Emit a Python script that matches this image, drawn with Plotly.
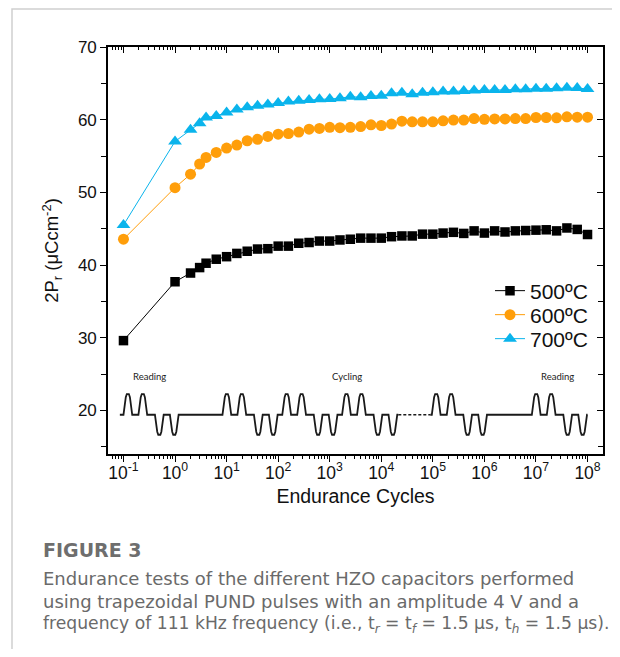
import plotly.graph_objects as go

# ---------------- data ----------------
cycles = [0.1, 1, 2, 3, 4, 6.3,
          10, 15.8, 25.1, 39.8, 63.1,
          100, 158, 251, 398, 631,
          1e3, 1.58e3, 2.51e3, 3.98e3, 6.31e3,
          1e4, 1.58e4, 2.51e4, 3.98e4, 6.31e4,
          1e5, 1.58e5, 2.51e5, 3.98e5, 6.31e5,
          1e6, 1.58e6, 2.51e6, 3.98e6, 6.31e6,
          1e7, 1.58e7, 2.51e7, 3.98e7, 6.31e7,
          1e8]

pr_500 = [29.6, 37.7, 38.9, 39.65, 40.25, 40.8,
          41.15, 41.6, 41.9, 42.2, 42.25,
          42.6, 42.6, 43.0, 43.1, 43.3,
          43.3, 43.45, 43.55, 43.7, 43.7,
          43.7, 43.9, 44.0, 44.0, 44.25,
          44.25, 44.4, 44.5, 44.35, 44.7,
          44.4, 44.7, 44.55, 44.7, 44.75,
          44.8, 44.85, 44.7, 45.1, 44.9,
          44.2]

pr_600 = [43.55, 50.65, 52.5, 53.9, 54.8, 55.5,
          56.1, 56.5, 57.1, 57.3, 57.7,
          58.0, 58.1, 58.3, 58.7, 58.8,
          58.95, 58.9, 58.95, 59.05, 59.3,
          59.2, 59.4, 59.8, 59.7, 59.7,
          59.7, 59.85, 59.95, 59.95, 60.15,
          60.05, 60.1, 60.1, 60.15, 60.15,
          60.3, 60.3, 60.25, 60.4, 60.35,
          60.35]

pr_700 = [45.5, 57.0, 58.6, 59.5, 60.3, 60.5,
          61.0, 61.4, 61.7, 61.9, 62.1,
          62.3, 62.5, 62.6, 62.7, 62.8,
          62.85, 62.94, 63.17, 63.08, 63.26,
          63.3, 63.63, 63.72, 63.49, 63.72,
          63.77, 63.86, 63.86, 63.95, 64.0,
          64.09, 64.09, 64.09, 64.18, 64.18,
          64.27, 64.27, 64.31, 64.4, 64.36,
          64.22]

series_names = ["500ºC", "600ºC", "700ºC"]
x_tick_exponents = [-1, 0, 1, 2, 3, 4, 5, 6, 7, 8]
y_tick_values = [20, 30, 40, 50, 60, 70]

# schematic PUND pulse train (positions in decades)
group_starts = [-1.0, 0.92, 2.08, 3.24, 4.98, 6.92]
pulse_labels = ["Reading", "Cycling", "Reading"]
pulse_label_pos = [-0.49, 3.33, 7.42]

# ---------------- styles ----------------
BLACK = "#000000"
ORANGE = "#FF9E0A"
CYAN = "#0AB4EC"
AX_FONT = "Liberation Sans, Arial, sans-serif"

# page body has an 8px margin: figure origin sits at (8, 8) in the window
OFF = 8
W, H = 612, 641
PL, PR, PT, PB = 108 - OFF, 603 - OFF, 47 - OFF, 454 - OFF   # plot area in figure px
PW, PH = PR - PL, PB - PT


def px(xw):
    return (xw - OFF - PL) / PW


def py(yw):
    return (PB - (yw - OFF)) / PH


fig = go.Figure()

styles = [
    dict(color=BLACK, symbol="square", size=9.5),
    dict(color=ORANGE, symbol="circle", size=11),
    dict(color=CYAN, symbol="triangle-up", size=12),
]
legend_ids = ["legend", "legend2", "legend3"]
for name, vals, st, lg in zip(series_names, [pr_500, pr_600, pr_700], styles, legend_ids):
    fig.add_trace(go.Scatter(x=cycles, y=vals, name=name, mode="lines+markers",
                             line=dict(color=st["color"], width=1),
                             marker=dict(symbol=st["symbol"], size=st["size"], color=st["color"]),
                             legend=lg))

# ---- pulse schematic ----
BASE, UP, DN = 19.4, 2.85, -2.75
PULSE_OFFS = [0.0, 0.29, 0.61, 0.9]
PULSE_AMPS = [UP, UP, DN, DN]
shape_dx = [0.0, 0.045, 0.065, 0.105, 0.125, 0.17]
shape_fr = [0.0, 0.85, 1.0, 1.0, 0.85, 0.0]


def pulse_group(start):
    xs, ys = [], []
    for off, amp in zip(PULSE_OFFS, PULSE_AMPS):
        for dx, fr in zip(shape_dx, shape_fr):
            xs.append(start + off + dx)
            ys.append(BASE + amp * fr)
    return xs, ys


wx, wy = [-1.07], [BASE]
for i, gs in enumerate(group_starts):
    gx, gy = pulse_group(gs)
    wx += gx
    wy += gy
    if i == 3:
        wx += [4.33, None, 4.95]
        wy += [BASE, None, BASE]
wx.append(8.0)
wy.append(BASE)

fig.add_trace(go.Scatter(x=[None if v is None else 10 ** v for v in wx], y=wy,
                         mode="lines", line=dict(color="#1a1a1a", width=1.8),
                         showlegend=False, hoverinfo="skip"))
fig.add_trace(go.Scatter(x=[10 ** 4.33, 10 ** 4.95], y=[BASE, BASE], mode="lines",
                         line=dict(color="#1a1a1a", width=1.6, dash="3px,2px"),
                         showlegend=False, hoverinfo="skip"))

for lab, pos in zip(pulse_labels, pulse_label_pos):
    fig.add_annotation(x=pos, y=24.6, xref="x", yref="y", text=lab, showarrow=False,
                       font=dict(family="Lato, Open Sans, sans-serif", size=9.5, color="#222"))

# dummy trace for the mirrored top/right axes
fig.add_trace(go.Scatter(x=[1], y=[20], xaxis="x2", yaxis="y2", mode="markers",
                         marker=dict(opacity=0), showlegend=False, hoverinfo="skip"))

minor_vals = [m * 10 ** e for e in range(-2, 9) for m in range(2, 10)]
xr = [-1.3, 8.3]
yr = [14, 70]

legend_common = dict(xanchor="left", yanchor="middle", bgcolor="rgba(0,0,0,0)", borderwidth=0,
                     font=dict(size=21, family=AX_FONT, color="#111"), itemwidth=30)

fig.update_layout(
    width=W, height=H,
    margin=dict(l=PL, r=W - PR, t=PT, b=H - PB),
    plot_bgcolor="white", paper_bgcolor="white",
    font=dict(family=AX_FONT, color="#111"),
    xaxis=dict(type="log", range=xr, showline=True, linecolor=BLACK, linewidth=1.6,
               ticks="outside", ticklen=6, tickwidth=1.4, tickcolor=BLACK,
               tickmode="array", tickvals=[10 ** e for e in x_tick_exponents],
               ticktext=["10<sup>%d</sup>" % e for e in x_tick_exponents],
               tickfont=dict(size=17.5, family=AX_FONT, color="#111"),
               ticklabelstandoff=-4,
               minor=dict(tickmode="array", tickvals=minor_vals, ticks="outside",
                          ticklen=3, tickwidth=1.2, tickcolor=BLACK),
               showgrid=False, zeroline=False,
               title=dict(text="Endurance Cycles", font=dict(size=19.5, family=AX_FONT, color="#111"),
                          standoff=8)),
    yaxis=dict(range=yr, showline=True, linecolor=BLACK, linewidth=1.6,
               ticks="outside", ticklen=6, tickwidth=1.4, tickcolor=BLACK,
               tickmode="array", tickvals=y_tick_values,
               tickfont=dict(size=17, family=AX_FONT, color="#111"),
               minor=dict(dtick=5, ticks="outside", ticklen=5, tickwidth=1.2, tickcolor=BLACK),
               showgrid=False, zeroline=False,
               title=dict(text="2P<sub>r</sub> (μCcm<sup>-2</sup>)",
                          font=dict(size=18.5, family=AX_FONT, color="#111"), standoff=14)),
    xaxis2=dict(type="log", range=xr, overlaying="x", side="top", anchor="y2",
                showline=True, linecolor=BLACK, linewidth=1.6,
                ticks="inside", ticklen=6, tickwidth=1.4, tickcolor=BLACK,
                tickmode="array", tickvals=[10 ** e for e in x_tick_exponents],
                showticklabels=False, showgrid=False, zeroline=False,
                minor=dict(tickmode="array", tickvals=minor_vals, ticks="inside",
                           ticklen=3, tickwidth=1.2, tickcolor=BLACK)),
    yaxis2=dict(range=yr, overlaying="y", side="right", anchor="x2",
                showline=True, linecolor=BLACK, linewidth=1.6,
                ticks="inside", ticklen=6, tickwidth=1.4, tickcolor=BLACK,
                tickmode="array", tickvals=y_tick_values,
                showticklabels=False, showgrid=False, zeroline=False,
                minor=dict(dtick=5, ticks="inside", ticklen=5, tickwidth=1.2, tickcolor=BLACK)),
    legend=dict(x=px(490), y=py(291), **legend_common),
    legend2=dict(x=px(490), y=py(315), **legend_common),
    legend3=dict(x=px(490), y=py(339), **legend_common),
    showlegend=True,
)

# card frame
fig.add_shape(type="rect", xref="paper", yref="paper",
              x0=px(12), x1=px(660), y0=py(700), y1=py(9),
              line=dict(color="#cfcfcf", width=1.5), fillcolor="rgba(0,0,0,0)", layer="below")

# caption
CAP_FONT = "DejaVu Sans, Verdana, sans-serif"
fig.add_annotation(xref="paper", yref="paper", x=px(41), y=py(550),
                   xanchor="left", yanchor="middle", showarrow=False, text="<b>FIGURE 3</b>",
                   font=dict(family=CAP_FONT, size=19, color="#6e6e6e"))
caption_lines = [
    "Endurance tests of the different HZO capacitors performed",
    "using trapezoidal PUND pulses with an amplitude 4 V and a",
    "frequency of 111 kHz frequency (i.e., t<sub><i>r</i></sub> = t<sub><i>f</i></sub> = 1.5 μs, t<sub><i>h</i></sub> = 1.5 μs).",
]
caption_sizes = [18, 18, 17.2]
for i, (line, sz) in enumerate(zip(caption_lines, caption_sizes)):
    fig.add_annotation(xref="paper", yref="paper", x=px(41),
                       y=py(578 + 23 * i),
                       xanchor="left", yanchor="middle", showarrow=False, text=line,
                       font=dict(family=CAP_FONT, size=sz, color="#6a6a6a"))

fig.write_html("out.html")
